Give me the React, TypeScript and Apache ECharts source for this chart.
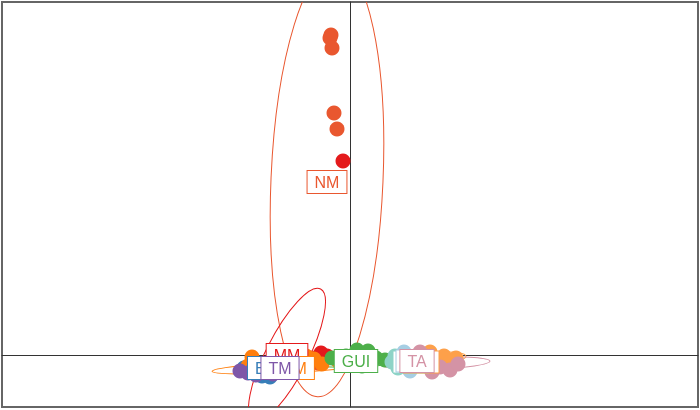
import React, { useEffect, useRef } from "react";
import * as echarts from "echarts";

// group names, colours (draw order of labels follows this list)
const groupNames = ["NM", "MM", "BM", "OM", "TM", "GUI", "TB", "TL", "TO", "TA"];
const groupColors = ["#E9572F", "#E41A1C", "#377EB8", "#FF7F0E", "#7E57A8", "#4DAF4A", "#8DD3C7", "#A6CEE3", "#FDA04A", "#D493A5"];
// groups whose label is fully hidden behind another label (box only)
const hiddenLabels = ["TB", "TL", "TO"];

// individual points per group [dim1, dim2]
const pointsNM: number[][] = [[-0.19, 3.2], [-0.2, 3.17], [-0.18, 3.07], [-0.16, 2.42], [-0.13, 2.26], [-0.38, -0.03], [-0.32, -0.08], [-0.27, -0.01]];
const pointsMM: number[][] = [[-0.07, 1.94], [-0.29, 0.02], [-0.23, -0.01], [-0.32, -0.05], [-0.48, -0.05]];
const pointsBM: number[][] = [[-1.06, -0.13], [-0.88, -0.21], [-0.8, -0.22], [-0.92, -0.16], [-0.64, -0.15]];
const pointsOM: number[][] = [[-0.98, -0.02], [-1.02, -0.11], [-0.36, -0.04], [-0.28, -0.09], [-0.44, -0.01], [-0.12, -0.06]];
const pointsTM: number[][] = [[-1.1, -0.16], [-1.02, -0.18], [-0.94, -0.2], [-0.77, -0.19], [-0.58, -0.12], [-0.46, -0.08]];
const pointsGUI: number[][] = [[0.07, 0.05], [0.18, 0.04], [-0.04, -0.01], [0.26, -0.03], [-0.18, -0.03], [0.35, -0.05], [0.12, -0.11]];
const pointsTB: number[][] = [[0.45, -0.01], [0.48, -0.13], [0.42, -0.07]];
const pointsTL: number[][] = [[0.54, 0.03], [0.6, -0.16]];
const pointsTO: number[][] = [[0.94, -0.01], [1.06, -0.03], [1.0, -0.07], [0.8, 0.03]];
const pointsTA: number[][] = [[0.9, -0.12], [1.0, -0.15], [0.82, -0.17], [0.7, 0.03], [1.08, -0.09]];

// confidence ellipses [cx, cy, rx, ry, angleDeg]
const ellipseNM = [-0.23, 1.75, 0.56, 2.17, -2.5];
const ellipseMM = [-0.63, 0.0, 0.21, 0.74, -27];
const ellipseBM = [-0.84, -0.15, 0.26, 0.05, 2];
const ellipseOM = [-0.56, -0.12, 0.82, 0.055, 3];
const ellipseTM = [-0.78, -0.15, 0.34, 0.05, 3];
const ellipseGUI = [0.06, -0.06, 0.5, 0.06, 2];
const ellipseTB = [0.46, -0.07, 0.12, 0.06, 0];
const ellipseTL = [0.57, -0.06, 0.1, 0.08, 0];
const ellipseTO = [0.96, -0.02, 0.2, 0.05, 2];
const ellipseTA = [0.86, -0.08, 0.54, 0.06, 2];

// label positions (group means)
const labelPos: number[][] = [[-0.23, 1.73], [-0.63, 0.0], [-0.83, -0.13], [-0.56, -0.13], [-0.7, -0.13], [0.06, -0.06], [0.61, -0.07], [0.64, -0.06], [0.71, -0.07], [0.67, -0.06]];

const allPoints = [pointsNM, pointsMM, pointsBM, pointsOM, pointsTM, pointsGUI, pointsTB, pointsTL, pointsTO, pointsTA];
const allEllipses = [ellipseNM, ellipseMM, ellipseBM, ellipseOM, ellipseTM, ellipseGUI, ellipseTB, ellipseTL, ellipseTO, ellipseTA];

const FONT = '16px "Liberation Sans", Arial, sans-serif';

export default function App() {
  const ref = useRef<HTMLDivElement>(null);
  useEffect(() => {
    if (!ref.current) return;
    const chart = echarts.init(ref.current, undefined, { renderer: "svg" });
    const series: any[] = [];
    groupNames.forEach((name, i) => {
      const color = groupColors[i];
      series.push({
        type: "custom",
        name: name + "-ellipse",
        clip: true,
        z: 1,
        data: [allEllipses[i]],
        renderItem: (params: any, api: any) => {
          const c = api.coord([api.value(0), api.value(1)]);
          const s = api.size([api.value(2), api.value(3)]);
          return {
            type: "ellipse",
            x: c[0],
            y: c[1],
            rotation: (api.value(4) * Math.PI) / 180,
            shape: { cx: 0, cy: 0, rx: s[0], ry: s[1] },
            style: { fill: "none", stroke: color, lineWidth: 1 },
          };
        },
      });
    });
    groupNames.forEach((name, i) => {
      series.push({
        type: "scatter",
        name,
        z: 2,
        symbolSize: 15,
        itemStyle: { color: groupColors[i], opacity: 1 },
        data: allPoints[i],
      });
    });
    groupNames.forEach((name, i) => {
      const color = groupColors[i];
      const hidden = hiddenLabels.indexOf(name) >= 0;
      series.push({
        type: "custom",
        name: name + "-label",
        z: 3,
        data: [labelPos[i]],
        renderItem: (params: any, api: any) => {
          const c = api.coord([api.value(0), api.value(1)]);
          if (hidden) {
            return {
              type: "rect",
              shape: { x: c[0] - 18, y: c[1] - 11, width: 36, height: 22 },
              style: { fill: "#ffffff", stroke: color, lineWidth: 1 },
            };
          }
          return {
            type: "text",
            x: c[0],
            y: c[1],
            style: {
              text: name,
              font: FONT,
              fill: color,
              align: "center",
              verticalAlign: "middle",
              backgroundColor: "#ffffff",
              borderColor: color,
              borderWidth: 1,
              padding: [3, 7],
            },
          };
        },
      });
    });
    chart.setOption({
      animation: false,
      grid: { left: 2, right: 2, top: 2, bottom: 3, show: true, borderColor: "#666", borderWidth: 2, backgroundColor: "transparent" },
      xAxis: {
        type: "value",
        min: -3.48,
        max: 3.48,
        axisLine: { show: true, onZero: true, lineStyle: { color: "#333", width: 1 } },
        axisTick: { show: false },
        axisLabel: { show: false },
        splitLine: { show: false },
      },
      yAxis: {
        type: "value",
        min: -0.52,
        max: 3.53,
        axisLine: { show: true, onZero: true, lineStyle: { color: "#333", width: 1 } },
        axisTick: { show: false },
        axisLabel: { show: false },
        splitLine: { show: false },
      },
      series,
    });
    return () => chart.dispose();
  }, []);
  return <div ref={ref} style={{ position: "fixed", left: 0, top: 0, width: 700, height: 410 }} />;
}
